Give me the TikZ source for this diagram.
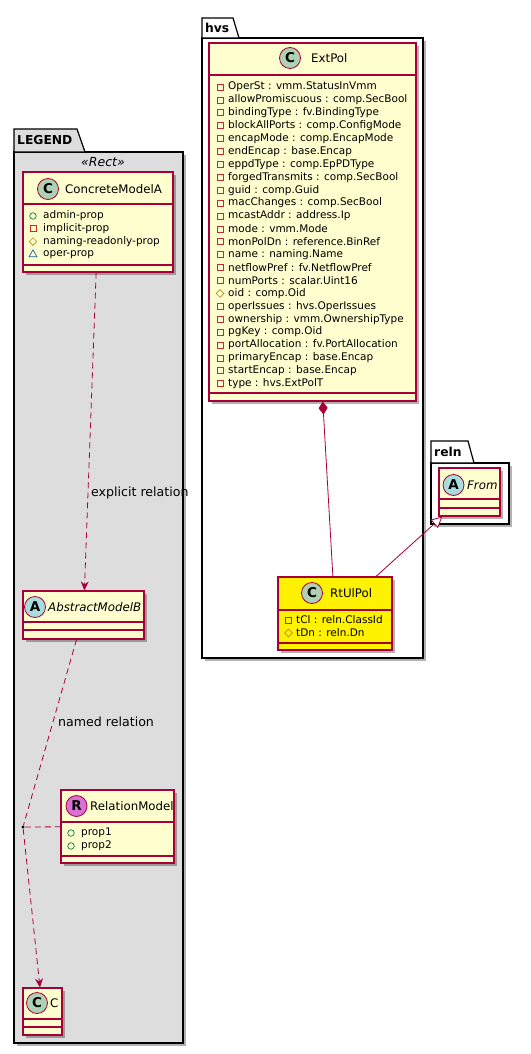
\documentclass[tikz,border=0pt]{standalone}
\usepackage{fontspec}
\setmainfont{DejaVu Sans}
\usepackage{tikz}
\usetikzlibrary{arrows.meta, shapes.geometric, shadows}
\definecolor{UmlBorder}{RGB}{168, 0, 54}
\definecolor{UmlFill}{RGB}{254, 254, 206}
\definecolor{SpotC}{RGB}{173, 209, 178}
\definecolor{SpotA}{RGB}{169, 220, 223}
\definecolor{SpotR}{RGB}{218, 112, 214}
\definecolor{LegendGray}{RGB}{221, 221, 221}
\definecolor{PubGreen}{RGB}{3, 128, 72}
\definecolor{PrivRed}{RGB}{200, 41, 48}
\definecolor{ProtGold}{RGB}{179, 141, 34}
\definecolor{PkgBlue}{RGB}{25, 99, 160}
\newcommand{\titlefont}{\fontsize{11.8}{14}\selectfont}
\newcommand{\attrfont}{\fontsize{10.5}{12}\selectfont}
\newcommand{\lblfont}{\fontsize{12.6}{14}\selectfont}
\newcommand{\spotfont}{\fontsize{13.5}{13.5}\selectfont\bfseries}
\newcommand{\pkgfont}{\fontsize{12.3}{14}\selectfont\bfseries}

\begin{document}
\begin{tikzpicture}[x=1pt, y=-1pt,
    umlshadow/.style={drop shadow={shadow xshift=3pt, shadow yshift=-3pt, opacity=0.3, fill=black}},
    clsbox/.style={rectangle, draw=UmlBorder, fill=UmlFill, line width=1.1pt, inner sep=0pt, umlshadow},
    clsline/.style={UmlBorder, line width=1.1pt},
    clsspot/.style={circle, draw=UmlBorder, line width=0.8pt, minimum size=21pt, inner sep=0pt, font=\spotfont},
    clstitle/.style={anchor=west, inner sep=0pt, font=\titlefont},
    clsattr/.style={anchor=west, inner sep=0pt, font=\attrfont},
    priv/.style={rectangle, draw=PrivRed, line width=0.7pt, minimum size=6pt, inner sep=0pt},
    pub/.style={circle, draw=PubGreen, line width=0.7pt, minimum size=6.5pt, inner sep=0pt},
    prot/.style={diamond, draw=ProtGold, line width=0.7pt, minimum size=8pt, inner sep=0pt},
    pack/.style={regular polygon, regular polygon sides=3, draw=PkgBlue, line width=0.7pt, minimum size=9pt, inner sep=0pt},
    pkgline/.style={draw=black, line width=1.2pt},
    rel/.style={UmlBorder, line width=0.8pt},
    dashrel/.style={rel, dash pattern=on 6pt off 4pt},
    lbl/.style={anchor=west, inner sep=0pt, font=\lblfont}]
    \useasboundingbox (0,0) rectangle (530,1054);

    % Packages
    \draw[pkgline, fill=LegendGray, umlshadow] (14,152) rectangle (183,1043);
    \draw[pkgline, fill=LegendGray] (14,152) -- (14,129) -- (77,129) -- (85,152) -- cycle;
    \node[anchor=west, inner sep=0pt, font=\pkgfont] (legendname) at (17,140) {LEGEND};
    \draw[pkgline, fill=white, umlshadow] (202,38) rectangle (423,658);
    \draw[pkgline, fill=white] (202,38) -- (202,18) -- (233,18) -- (239,38) -- cycle;
    \node[anchor=west, inner sep=0pt, font=\pkgfont] (hvsname) at (205,28) {hvs};
    \draw[pkgline, fill=white, umlshadow] (431,463) rectangle (509,524);
    \draw[pkgline, fill=white] (431,463) -- (431,441) -- (468,441) -- (474,463) -- cycle;
    \node[anchor=west, inner sep=0pt, font=\pkgfont] (relnname) at (434,452) {reln};

    % Legend classes
    \node[font=\itshape\fontsize{12.5}{14}\selectfont] (rectster) at (103,162) {«Rect»};
    \node[clsbox, minimum width=150pt, minimum height=100pt] (concrete) at (98,222) {};
    \draw[clsline] (23,204) -- (173,204);
    \draw[clsline] (23,265) -- (173,265);
    \node[clsspot, fill=SpotC] (concretespot) at (48,189) {C};
    \node[clstitle] (concretettl) at (65,189) {ConcreteModelA};
    \foreach \ic/\txt [count=\i] in {pub/admin-prop, priv/implicit-prop, prot/naming-readonly-prop, pack/oper-prop} {
      \node[\ic] (concic\i) at (33,{216+12.8*(\i-1)}) {};
      \node[clsattr] (concat\i) at (43,{216+12.8*(\i-1)}) {\txt};
    }

    \node[clsbox, minimum width=121pt, minimum height=48pt] (abstractb) at (83.5,615) {};
    \draw[clsline] (23,622) -- (144,622);
    \draw[clsline] (23,630) -- (144,630);
    \node[clsspot, fill=SpotA] (abstractspot) at (35,607) {A};
    \node[clstitle, font=\titlefont\itshape] (abstractttl) at (48,607) {AbstractModelB};

    \node[clsbox, minimum width=113pt, minimum height=73pt] (relmodel) at (117.5,826.5) {};
    \draw[clsline] (61,822) -- (174,822);
    \draw[clsline] (61,856) -- (174,856);
    \node[clsspot, fill=SpotR] (relspot) at (76.5,806) {R};
    \node[clstitle] (relttl) at (90,806) {RelationModel};
    \foreach \txt [count=\i] in {prop1, prop2} {
      \node[pub] (relic\i) at (71,{833+13*(\i-1)}) {};
      \node[clsattr] (relat\i) at (81,{833+13*(\i-1)}) {\txt};
    }

    \node[clsbox, minimum width=39pt, minimum height=47pt] (cbox) at (42.5,1011.5) {};
    \draw[clsline] (23,1019) -- (62,1019);
    \draw[clsline] (23,1027) -- (62,1027);
    \node[clsspot, fill=SpotC] (cspot) at (37,1003) {C};
    \node[clstitle] (cttl) at (50,1003) {C};

    % hvs classes
    \node[clsbox, minimum width=207pt, minimum height=358pt] (extpol) at (312.5,222) {};
    \draw[clsline] (209,75) -- (416,75);
    \draw[clsline] (209,393) -- (416,393);
    \node[clsspot, fill=SpotC] (extspot) at (290,58) {C};
    \node[clstitle] (extttl) at (311,58) {ExtPol};
    \foreach \ic/\txt [count=\i] in {priv/OperSt : vmm.StatusInVmm, priv/allowPromiscuous : comp.SecBool,
        priv/bindingType : fv.BindingType, priv/blockAllPorts : comp.ConfigMode,
        priv/encapMode : comp.EncapMode, priv/endEncap : base.Encap, priv/eppdType : comp.EpPDType,
        priv/forgedTransmits : comp.SecBool, priv/guid : comp.Guid, priv/macChanges : comp.SecBool,
        priv/mcastAddr : address.Ip, priv/mode : vmm.Mode, priv/monPolDn : reference.BinRef,
        priv/name : naming.Name, priv/netflowPref : fv.NetflowPref, priv/numPorts : scalar.Uint16,
        prot/oid : comp.Oid, priv/operIssues : hvs.OperIssues, priv/ownership : vmm.OwnershipType,
        priv/pgKey : comp.Oid, priv/portAllocation : fv.PortAllocation, priv/primaryEncap : base.Encap,
        priv/startEncap : base.Encap, priv/type : hvs.ExtPolT} {
      \node[\ic] (extic\i) at (220,{87+12.9*(\i-1)}) {};
      \node[clsattr] (extat\i) at (228,{87+12.9*(\i-1)}) {\txt};
    }

    \node[clsbox, fill=yellow, minimum width=114pt, minimum height=73pt] (rtulpol) at (335,613.5) {};
    \draw[clsline] (278,610) -- (392,610);
    \draw[clsline] (278,643) -- (392,643);
    \node[clsspot, fill=SpotC] (rtulspot) at (312,593) {C};
    \node[clstitle] (rtulttl) at (330,593) {RtUlPol};
    \node[priv] (rtulic1) at (288.5,620) {};
    \node[clsattr] (rtulat1) at (296,620) {tCl : reln.ClassId};
    \node[prot] (rtulic2) at (288.5,633) {};
    \node[clsattr] (rtulat2) at (296,633) {tDn : reln.Dn};

    % reln class
    \node[clsbox, minimum width=61pt, minimum height=48pt] (fromcls) at (469.5,492) {};
    \draw[clsline] (439,499) -- (500,499);
    \draw[clsline] (439,508) -- (500,508);
    \node[clsspot, fill=SpotA] (fromspot) at (453.5,485) {A};
    \node[clstitle, font=\titlefont\itshape] (fromttl) at (467,485) {From};

    % Relations
    \node[circle, fill=black, inner sep=1.2pt] (reldot) at (23,827) {};
    \draw[dashrel, -{Stealth[length=9pt, width=8pt, inset=3pt]}] (concrete) -- (abstractb);
    \node[lbl] (explbl) at (91,493) {explicit relation};
    \draw[dashrel] (abstractb) -- (reldot);
    \draw[dashrel, -{Stealth[length=9pt, width=8pt, inset=3pt]}] (reldot) -- (cbox);
    \draw[dashrel] (reldot) -- (relmodel);
    \node[lbl] (namedlbl) at (58,722) {named relation};
    \draw[rel, {Diamond[length=13pt, width=9pt]}-] (extpol) -- (rtulpol);
    \draw[rel, -{Triangle[length=11pt, width=11pt, fill=white]}] (rtulpol) -- (fromcls);
\end{tikzpicture}
\end{document}
